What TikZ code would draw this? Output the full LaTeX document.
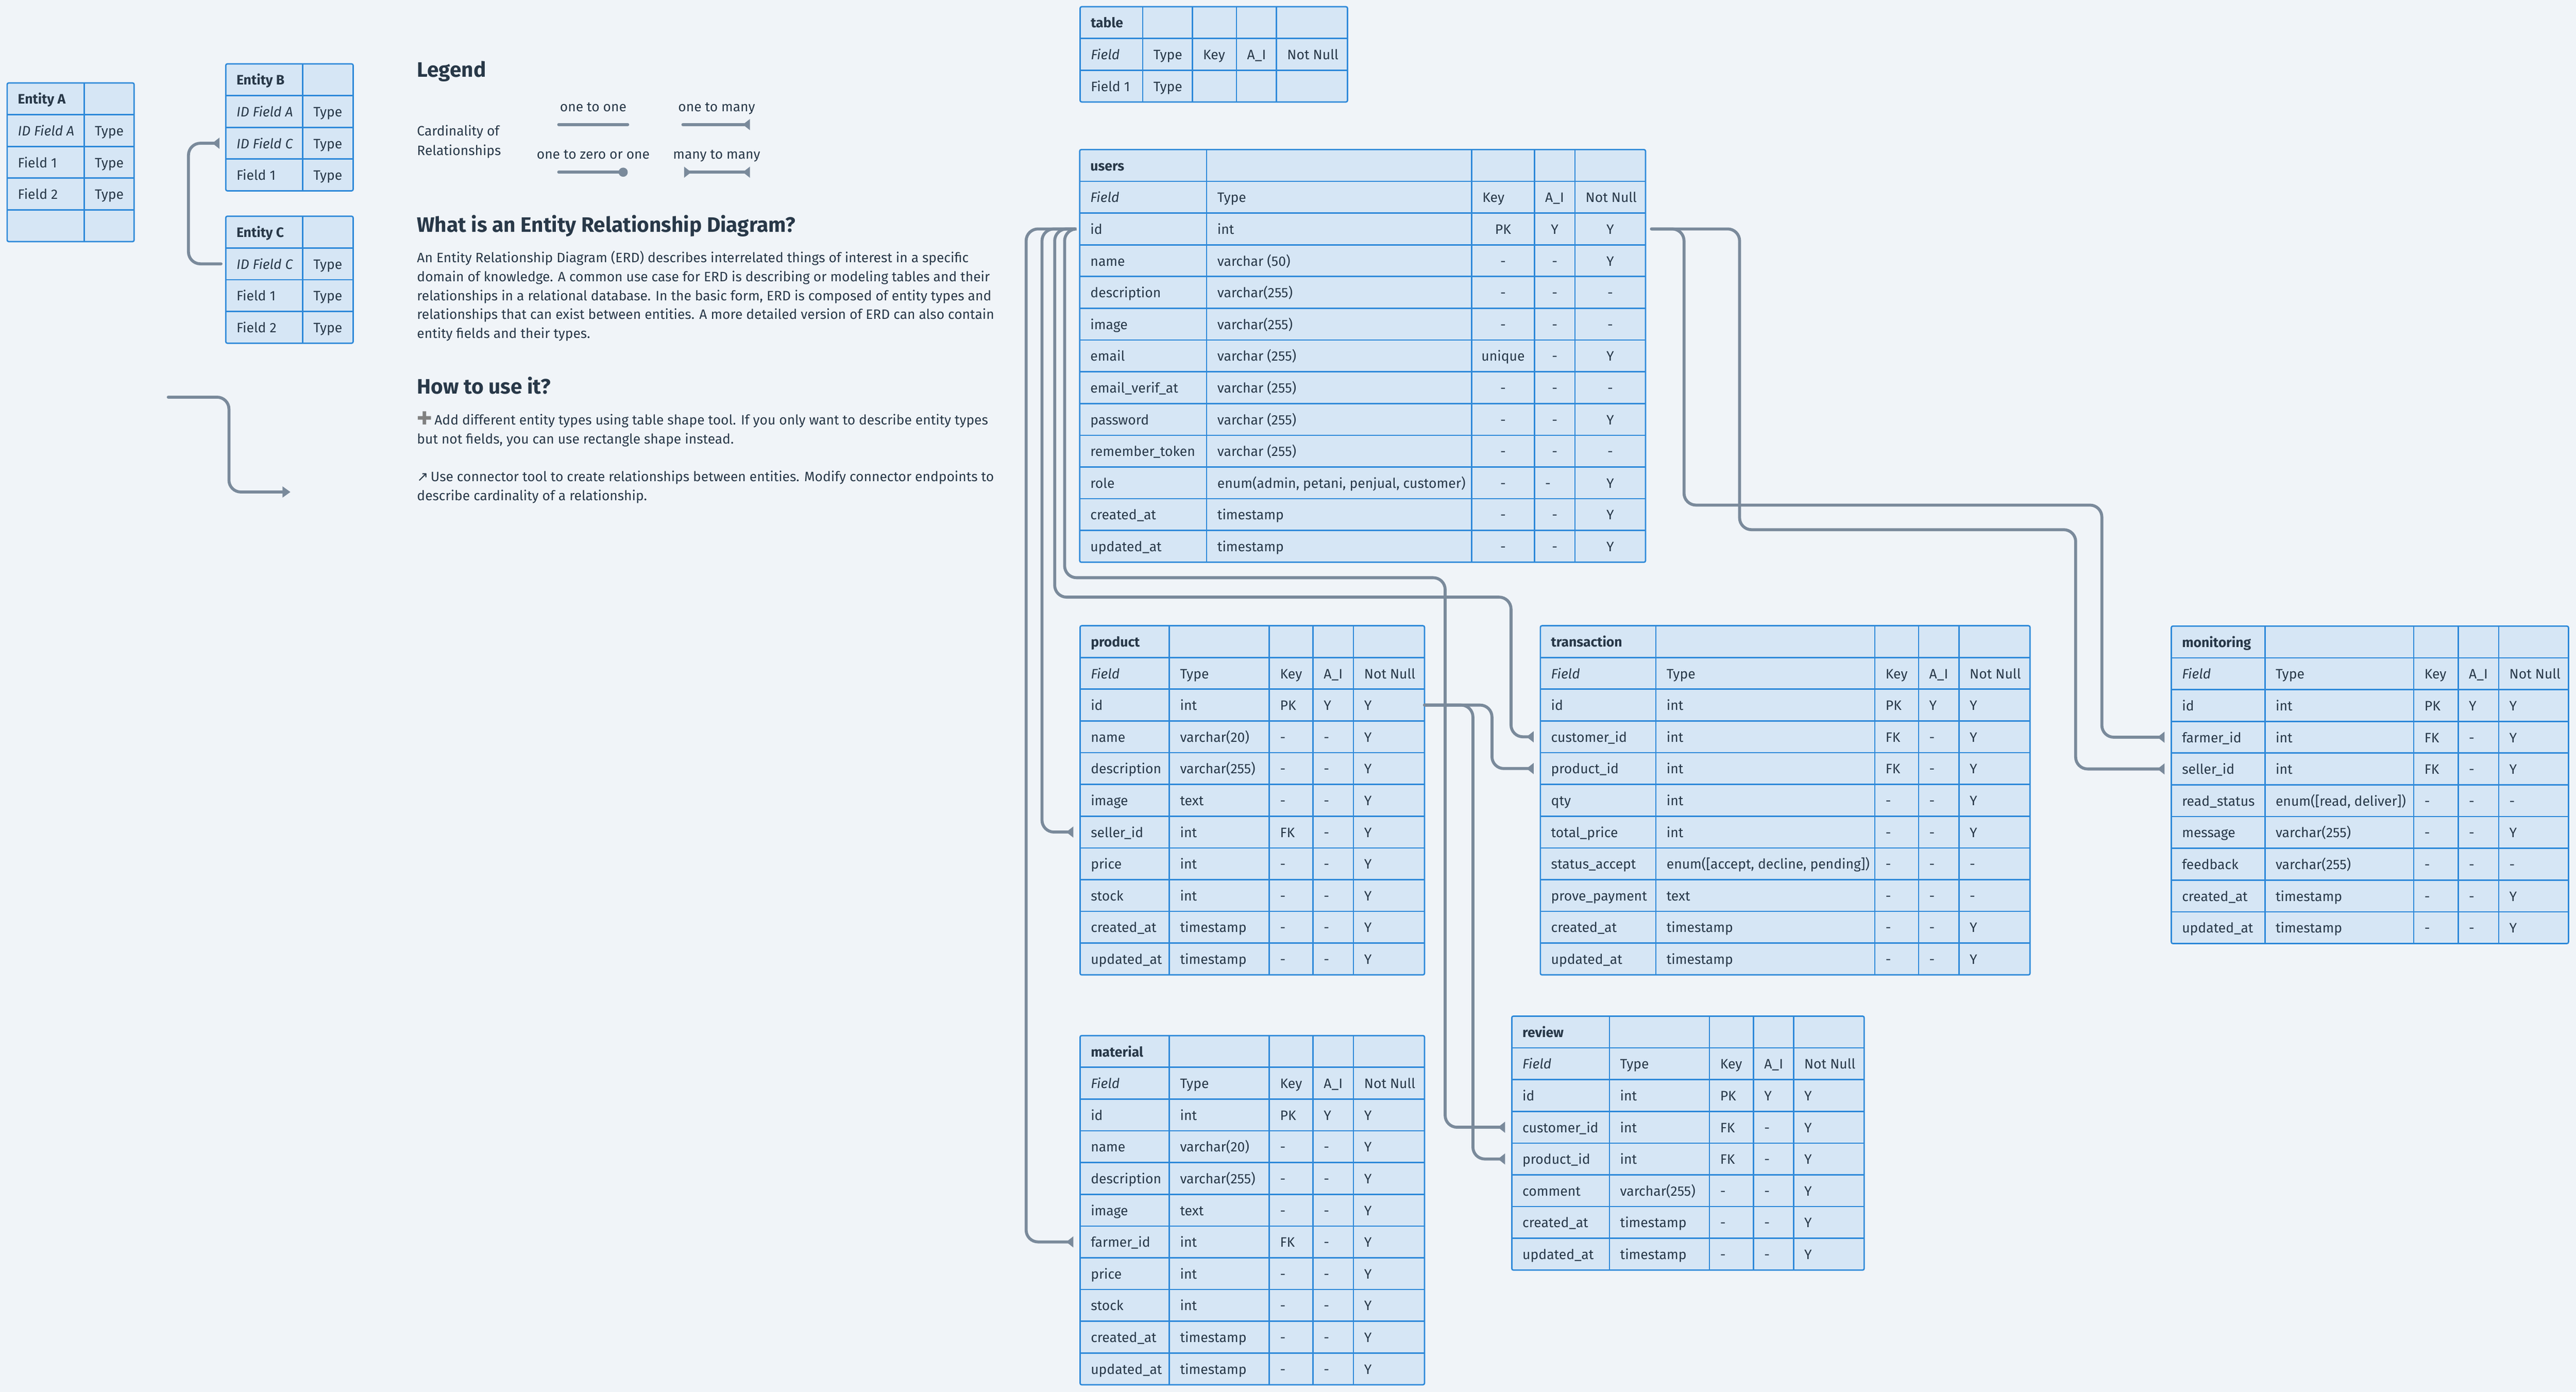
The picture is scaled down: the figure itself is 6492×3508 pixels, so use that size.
\documentclass[tikz,border=0pt]{standalone}
\usepackage{fontspec}
\setmainfont{Fira Sans}
\newfontfamily\symfont{DejaVu Sans}
\usetikzlibrary{arrows.meta}
\definecolor{bgc}{HTML}{F0F4F8}
\definecolor{fillc}{HTML}{D6E6F5}
\definecolor{gridc}{HTML}{2E89D9}
\definecolor{txtc}{HTML}{283848}
\definecolor{connc}{HTML}{7A8A9B}
\newcommand\tabfont{\fontsize{9.8}{12}\selectfont}
\newcommand\parfont{\fontsize{9.75}{12}\selectfont}
\newcommand\headfont{\fontsize{15}{18}\selectfont\bfseries}
% table helpers
\newcommand\tabdef[8]{\def\tname{#1}\def\tx{#2}\def\ty{#3}\def\ca{#4}\def\cb{#5}\def\cc{#6}\def\cd{#7}\def\tr{#8}\def\tcols{#4,#5,#6,#7}}
\newcommand\etabdef[5]{\def\tname{#1}\def\tx{#2}\def\ty{#3}\def\ca{#4}\def\tr{#5}\def\tcols{#4}}
\newcommand\tabframe[1]{%
  \pgfmathsetmacro\tb{\ty+80*#1}%
  \pgfmathtruncatemacro\tnm{#1-1}%
  \node[tabbox, minimum width={(\tr-\tx)*0.1mm}, minimum height={80*#1*0.1mm}] (\tname) at (\tx,\ty) {};%
  \foreach \kk in {1,...,\tnm} {\draw[gridline] (\tx,{\ty+80*\kk}) -- (\tr,{\ty+80*\kk});}%
  \foreach \cx in \tcols {\draw[gridline] (\cx,\ty) -- (\cx,\tb);}%
}
\newcommand\rowpts[1]{%
  \coordinate (\tname-r#1) at (\tx,{\ty+80*#1+40});%
  \coordinate (\tname-r#1e) at (\tr,{\ty+80*#1+40});}
\newcommand\cellat[4]{\node[cell] (\tname-#1-#2) at ({#3+27},{\ty+80*#1+53}) {#4};}
\newcommand\ccellat[5]{\node[ccell] (\tname-#1-#2) at ({(#3+#4)/2},{\ty+80*#1+53}) {#5};}
\newcommand\ttitle[1]{\rowpts{0}\cellat{0}{1}{\tx}{\bfseries #1}}
\newcommand\trow[6]{\rowpts{#1}\cellat{#1}{1}{\tx}{#2}\cellat{#1}{2}{\ca}{#3}\cellat{#1}{3}{\cb}{#4}\cellat{#1}{4}{\cc}{#5}\cellat{#1}{5}{\cd}{#6}}
\newcommand\thead[1]{\trow{#1}{\itshape Field}{Type}{Key}{A\_I}{Not Null}}
\newcommand\crow[6]{\rowpts{#1}\cellat{#1}{1}{\tx}{#2}\cellat{#1}{2}{\ca}{#3}\ccellat{#1}{3}{\cb}{\cc}{#4}\ccellat{#1}{4}{\cc}{\cd}{#5}\ccellat{#1}{5}{\cd}{\tr}{#6}}
\newcommand\erow[3]{\rowpts{#1}\cellat{#1}{1}{\tx}{#2}\cellat{#1}{2}{\ca}{#3}}
\begin{document}
\begin{tikzpicture}[x=0.1mm, y=-0.1mm,
  tabbox/.style={draw=gridc, fill=fillc, line width=0.35mm, rounded corners=0.4mm, anchor=north west, inner sep=0pt, outer sep=0pt},
  gridline/.style={draw=gridc, line width=0.35mm},
  cell/.style={anchor=base west, inner sep=0pt, outer sep=0pt, text=txtc, font=\tabfont},
  ccell/.style={anchor=base, inner sep=0pt, outer sep=0pt, text=txtc, font=\tabfont},
  txt/.style={anchor=base west, inner sep=0pt, outer sep=0pt, text=txtc, font=\parfont},
  ctxt/.style={anchor=base, inner sep=0pt, outer sep=0pt, text=txtc, font=\parfont},
  head/.style={anchor=base west, inner sep=0pt, outer sep=0pt, text=txtc, font=\headfont},
  conn/.style={draw=connc, line width=0.75mm, rounded corners=3mm, line cap=round},
  tomany/.style={-{Triangle[reversed, length=1.8mm, width=2.7mm]}},
  bothmany/.style={{Triangle[reversed, length=1.8mm, width=2.7mm]}-{Triangle[reversed, length=1.8mm, width=2.7mm]}},
  tozero/.style={-{Circle[length=2.3mm, width=2.3mm]}},
  plainarrow/.style={-{Triangle[length=2mm, width=2.7mm]}}
]
\useasboundingbox (0,0) rectangle (6492,3508);
\fill[bgc] (0,0) rectangle (6492,3508);

% ---------- sample entities ----------
\etabdef{entA}{18}{209}{212}{338}
\tabframe{5}
\ttitle{Entity A}
\erow{1}{\itshape ID Field A}{Type}
\erow{2}{Field 1}{Type}
\erow{3}{Field 2}{Type}

\etabdef{entB}{569}{161}{763}{890}
\tabframe{4}
\ttitle{Entity B}
\erow{1}{\itshape ID Field A}{Type}
\erow{2}{\itshape ID Field C}{Type}
\erow{3}{Field 1}{Type}

\etabdef{entC}{569}{545}{763}{890}
\tabframe{4}
\ttitle{Entity C}
\erow{1}{\itshape ID Field C}{Type}
\erow{2}{Field 1}{Type}
\erow{3}{Field 2}{Type}

% ---------- legend & text ----------
\node[head] (legend) at (1051,194) {Legend};
\node[txt] (card1) at (1051,342) {Cardinality of};
\node[txt] (card2) at (1051,391) {Relationships};
\node[ctxt] (l11) at (1495,281) {one to one};
\node[ctxt] (l1m) at (1806,281) {one to many};
\node[ctxt] (l10) at (1495,401) {one to zero or one};
\node[ctxt] (lmm) at (1806,401) {many to many};
\coordinate (lg1a) at (1408,314); \coordinate (lg1b) at (1582,314);
\coordinate (lg2a) at (1721,314); \coordinate (lg2b) at (1890,314);
\coordinate (lg3a) at (1408,434); \coordinate (lg3b) at (1582,434);
\coordinate (lg4a) at (1724,434); \coordinate (lg4b) at (1890,434);
\draw[conn] (lg1a) -- (lg1b);
\draw[conn,tomany] (lg2a) -- (lg2b);
\draw[conn,tozero] (lg3a) -- (lg3b);
\draw[conn,bothmany] (lg4a) -- (lg4b);

\node[head] (what) at (1051,585) {What is an Entity Relationship Diagram?};
\node[txt] (p1) at (1051,661) {An Entity Relationship Diagram (ERD) describes interrelated things of interest in a specific};
\node[txt] (p2) at (1051,709) {domain of knowledge. A common use case for ERD is describing or modeling tables and their};
\node[txt] (p3) at (1051,757) {relationships in a relational database. In the basic form, ERD is composed of entity types and};
\node[txt] (p4) at (1051,805) {relationships that can exist between entities. A more detailed version of ERD can also contain};
\node[txt] (p5) at (1051,853) {entity fields and their types.};

\node[head] (how) at (1051,993) {How to use it?};
\node[txt] (h1) at (1051,1070) {{\symfont\color{gray}\fontsize{13}{13}\selectfont ✚}\,Add different entity types using table shape tool. If you only want to describe entity types};
\node[txt] (h2) at (1051,1118) {but not fields, you can use rectangle shape instead.};
\node[txt] (h3) at (1051,1213) {{\symfont ↗}\,Use connector tool to create relationships between entities. Modify connector endpoints to};
\node[txt] (h4) at (1051,1261) {describe cardinality of a relationship.};

% ---------- table template ----------
\tabdef{tmpl}{2722}{17}{2880}{3005}{3116}{3217}{3396}
\tabframe{3}
\ttitle{table}
\thead{1}
\rowpts{2}\cellat{2}{1}{\tx}{Field 1}\cellat{2}{2}{\ca}{Type}

% ---------- users ----------
\tabdef{users}{2721}{377}{3041}{3709}{3867}{3969}{4147}
\tabframe{13}
\ttitle{users}
\thead{1}
\crow{2}{id}{int}{PK}{Y}{Y}
\crow{3}{name}{varchar (50)}{-}{-}{Y}
\crow{4}{description}{varchar(255)}{-}{-}{-}
\crow{5}{image}{varchar(255)}{-}{-}{-}
\crow{6}{email}{varchar (255)}{unique}{-}{Y}
\crow{7}{email\_verif\_at}{varchar (255)}{-}{-}{-}
\crow{8}{password}{varchar (255)}{-}{-}{Y}
\crow{9}{remember\_token}{varchar (255)}{-}{-}{-}
\rowpts{10}\cellat{10}{1}{\tx}{role}\cellat{10}{2}{\ca}{enum(admin, petani, penjual, customer)}\ccellat{10}{3}{\cb}{\cc}{-}\cellat{10}{4}{\cc}{-}\ccellat{10}{5}{\cd}{\tr}{Y}
\crow{11}{created\_at}{timestamp}{-}{-}{Y}
\crow{12}{updated\_at}{timestamp}{-}{-}{Y}

% ---------- product ----------
\tabdef{product}{2722}{1577}{2947}{3199}{3309}{3411}{3590}
\tabframe{11}
\ttitle{product}
\thead{1}
\trow{2}{id}{int}{PK}{Y}{Y}
\trow{3}{name}{varchar(20)}{-}{-}{Y}
\trow{4}{description}{varchar(255)}{-}{-}{Y}
\trow{5}{image}{text}{-}{-}{Y}
\trow{6}{seller\_id}{int}{FK}{-}{Y}
\trow{7}{price}{int}{-}{-}{Y}
\trow{8}{stock}{int}{-}{-}{Y}
\trow{9}{created\_at}{timestamp}{-}{-}{Y}
\trow{10}{updated\_at}{timestamp}{-}{-}{Y}

% ---------- material ----------
\tabdef{material}{2722}{2610}{2947}{3199}{3309}{3411}{3590}
\tabframe{11}
\ttitle{material}
\thead{1}
\trow{2}{id}{int}{PK}{Y}{Y}
\trow{3}{name}{varchar(20)}{-}{-}{Y}
\trow{4}{description}{varchar(255)}{-}{-}{Y}
\trow{5}{image}{text}{-}{-}{Y}
\trow{6}{farmer\_id}{int}{FK}{-}{Y}
\trow{7}{price}{int}{-}{-}{Y}
\trow{8}{stock}{int}{-}{-}{Y}
\trow{9}{created\_at}{timestamp}{-}{-}{Y}
\trow{10}{updated\_at}{timestamp}{-}{-}{Y}

% ---------- transaction ----------
\tabdef{transaction}{3882}{1577}{4173}{4725}{4835}{4937}{5116}
\tabframe{11}
\ttitle{transaction}
\thead{1}
\trow{2}{id}{int}{PK}{Y}{Y}
\trow{3}{customer\_id}{int}{FK}{-}{Y}
\trow{4}{product\_id}{int}{FK}{-}{Y}
\trow{5}{qty}{int}{-}{-}{Y}
\trow{6}{total\_price}{int}{-}{-}{Y}
\trow{7}{status\_accept}{enum([accept, decline, pending])}{-}{-}{-}
\trow{8}{prove\_payment}{text}{-}{-}{-}
\trow{9}{created\_at}{timestamp}{-}{-}{Y}
\trow{10}{updated\_at}{timestamp}{-}{-}{Y}

% ---------- monitoring ----------
\tabdef{monitoring}{5472}{1578}{5708}{6083}{6195}{6297}{6473}
\tabframe{10}
\ttitle{monitoring}
\thead{1}
\trow{2}{id}{int}{PK}{Y}{Y}
\trow{3}{farmer\_id}{int}{FK}{-}{Y}
\trow{4}{seller\_id}{int}{FK}{-}{Y}
\trow{5}{read\_status}{enum([read, deliver])}{-}{-}{-}
\trow{6}{message}{varchar(255)}{-}{-}{Y}
\trow{7}{feedback}{varchar(255)}{-}{-}{-}
\trow{8}{created\_at}{timestamp}{-}{-}{Y}
\trow{9}{updated\_at}{timestamp}{-}{-}{Y}

% ---------- review ----------
\tabdef{review}{3810}{2561}{4056}{4308}{4419}{4520}{4698}
\tabframe{8}
\ttitle{review}
\thead{1}
\trow{2}{id}{int}{PK}{Y}{Y}
\trow{3}{customer\_id}{int}{FK}{-}{Y}
\trow{4}{product\_id}{int}{FK}{-}{Y}
\trow{5}{comment}{varchar(255)}{-}{-}{Y}
\trow{6}{created\_at}{timestamp}{-}{-}{Y}
\trow{7}{updated\_at}{timestamp}{-}{-}{Y}

% ---------- connectors ----------
\coordinate (uidL) at ([xshift=-1.2mm]users-r2);
\coordinate (uidR) at ([xshift=1.5mm]users-r2e);
\coordinate (matFk) at ([xshift=-1.7mm]material-r6);
\coordinate (prodSel) at ([xshift=-1.7mm]product-r6);
\coordinate (trCust) at ([xshift=-1.7mm]transaction-r3);
\coordinate (trProd) at ([xshift=-1.7mm]transaction-r4);
\coordinate (rvCust) at ([xshift=-1.7mm]review-r3);
\coordinate (rvProd) at ([xshift=-1.7mm]review-r4);
\coordinate (moFarm) at ([xshift=-1.7mm]monitoring-r3);
\coordinate (moSell) at ([xshift=-1.7mm]monitoring-r4);
\coordinate (laneA) at (2586,0);
\coordinate (laneB) at (2626,0);
\coordinate (bendC) at (2658,1505);
\coordinate (laneC) at (3808,0);
\coordinate (bendD) at (2683,1456);
\coordinate (laneD) at (3642,0);
\coordinate (bendE) at (4244,1273);
\coordinate (laneE) at (5297,0);
\coordinate (bendF) at (4384,1335);
\coordinate (laneF) at (5231,0);
\coordinate (laneG) at (3760,0);
\coordinate (laneH) at (3712,0);

\draw[conn,tomany] (uidL) -| (laneA |- matFk) -- (matFk);
\draw[conn,tomany] (uidL) -| (laneB |- prodSel) -- (prodSel);
\draw[conn,tomany] (uidL) -| (bendC) -| (laneC |- trCust) -- (trCust);
\draw[conn,tomany] (uidL) -| (bendD) -| (laneD |- rvCust) -- (rvCust);
\draw[conn,tomany] (uidR) -| (bendE) -| (laneE |- moFarm) -- (moFarm);
\draw[conn,tomany] (uidR) -| (bendF) -| (laneF |- moSell) -- (moSell);
\draw[conn,tomany] (product-r2e) -| (laneG |- trProd) -- (trProd);
\draw[conn,tomany] (product-r2e) -| (laneH |- rvProd) -- (rvProd);

% sample connector C -> B
\coordinate (cStart) at ([xshift=-1.2mm]entC-r1);
\coordinate (bTip) at ([xshift=-1.6mm]entB-r2);
\coordinate (laneI) at (475,0);
\draw[conn,tomany] (cStart) -| (laneI |- bTip) -- (bTip);

% free arrow
\coordinate (fa1) at (424,1001);
\coordinate (fa2) at (732,1240);
\coordinate (famid) at (577,0);
\draw[conn,plainarrow] (fa1) -| (famid |- fa2) -- (fa2);
\end{tikzpicture}
\end{document}
